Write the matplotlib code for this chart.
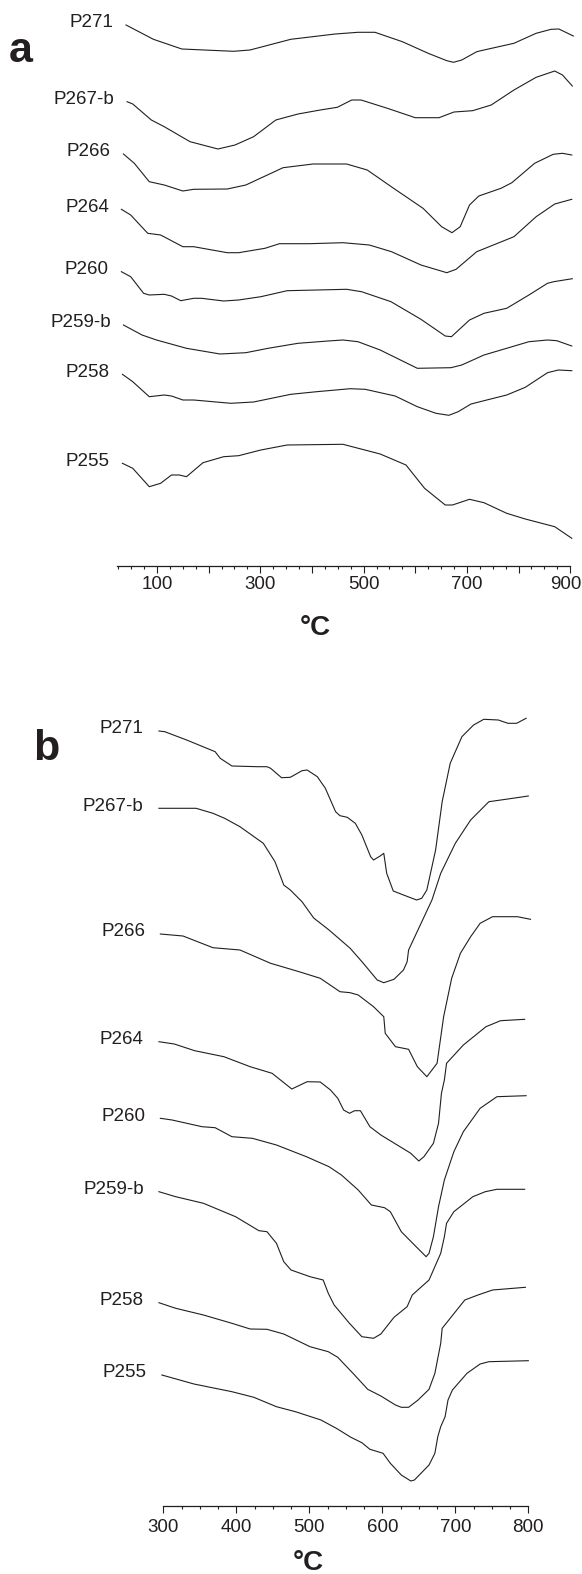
import matplotlib
matplotlib.use('Agg')
import matplotlib.pyplot as plt
from matplotlib.ticker import MultipleLocator, FuncFormatter

plt.rcParams['font.family'] = ['Liberation Sans', 'DejaVu Sans']

# ---------------- panel a : samples 20-900 C ----------------
names_a = ['P271', 'P267-b', 'P266', 'P264', 'P260', 'P259-b', 'P258', 'P255']
# vertical stacking of the curves (arbitrary units)
offsets_a = [-25, -101.7, -154, -209.3, -271.7, -325, -374.3, -463.3]

t_a_p271 = [40, 93, 148, 248, 280, 359, 445, 489, 522, 575, 625, 661, 674, 690, 719, 733, 791, 834, 863, 878, 906]
s_a_p271 = [0, -14.3, -24, -26.3, -25, -14.3, -9, -7.3, -7.3, -16.7, -28.3, -35.7, -37.3, -35, -26.7, -25, -18.3, -8.3, -4.3, -4, -11]

t_a_p267 = [42, 53, 89, 114, 164, 218, 251, 287, 330, 373, 416, 449, 477, 495, 546, 600, 646, 675, 711, 747, 791, 834, 870, 885, 904]
s_a_p267 = [0, -2.3, -18.3, -25, -40, -47.3, -43.3, -35, -18.3, -12.3, -8.3, -5.6, 1.7, 1.7, -6.6, -16, -16, -10.3, -9, -3.3, 11.7, 24.4, 30.7, 26.7, 15.7]

t_a_p266 = [35, 56, 85, 114, 150, 171, 236, 272, 344, 402, 467, 507, 558, 615, 651, 671, 687, 705, 723, 766, 787, 831, 867, 885, 903]
s_a_p266 = [0, -9.3, -27.7, -31, -37, -35.3, -35, -31, -13.7, -10, -10, -16, -34.3, -54.3, -72.7, -78.7, -72.7, -51, -42, -34.3, -28.7, -9.3, -0.3, 0.7, -1]

t_a_p264 = [31, 49, 82, 107, 150, 171, 236, 258, 309, 337, 395, 460, 511, 554, 611, 661, 679, 719, 791, 834, 870, 903]
s_a_p264 = [0, -5.7, -24, -25.7, -37.4, -37.4, -43.4, -43.4, -39, -34.4, -34.4, -33.4, -35.7, -42.4, -55.7, -63.4, -60, -42.4, -27.4, -7.4, 5.3, 10]

t_a_p260 = [31, 49, 74, 85, 114, 128, 146, 171, 186, 229, 258, 301, 352, 467, 496, 553, 611, 658, 670, 705, 733, 777, 820, 856, 868, 904]
s_a_p260 = [0, -5, -21.6, -23.3, -22.6, -24.3, -29, -26.6, -26.6, -29.3, -28.3, -25, -19, -17.6, -20, -30, -47.6, -64.3, -65, -48.3, -41.6, -36.6, -23.3, -11.6, -10, -7]

t_a_p259 = [35, 71, 99, 157, 222, 272, 315, 373, 431, 460, 489, 532, 604, 669, 690, 733, 777, 820, 856, 874, 903]
s_a_p259 = [0, -10, -15, -23.3, -29, -27.7, -23.3, -18.3, -16, -15, -16.7, -25, -43.3, -42.7, -40, -30, -23.3, -16.7, -15, -15.7, -21]

t_a_p258 = [33, 53, 85, 114, 128, 150, 171, 243, 287, 359, 409, 474, 503, 561, 604, 640, 665, 683, 708, 733, 777, 813, 856, 877, 903]
s_a_p258 = [0, -7.4, -22.4, -20.7, -21.7, -25.7, -25.7, -29, -27.7, -20, -17.4, -14.4, -15, -21.7, -32.4, -39, -41, -37.4, -29.7, -26.4, -20.7, -13, 1.6, 4.3, 3.6]

t_a_p255 = [33, 53, 85, 107, 128, 143, 157, 189, 229, 258, 301, 352, 460, 532, 582, 618, 658, 672, 705, 733, 777, 813, 870, 903]
s_a_p255 = [0, -5, -23.4, -20, -11.7, -11.7, -13.4, 0.6, 6.6, 7.6, 13.3, 18.3, 19, 9.3, -1.7, -25, -41.7, -41.7, -36, -39.4, -50, -55.7, -63.4, -75]

temps_a = [t_a_p271, t_a_p267, t_a_p266, t_a_p264, t_a_p260, t_a_p259, t_a_p258, t_a_p255]
sigs_a = [s_a_p271, s_a_p267, s_a_p266, s_a_p264, s_a_p260, s_a_p259, s_a_p258, s_a_p255]

# ---------------- panel b : samples 300-800 C ----------------
names_b = ['P271', 'P267-b', 'P266', 'P264', 'P260', 'P259-b', 'P258', 'P255']
offsets_b = [-731, -808.3, -934, -1041.7, -1118.3, -1191.7, -1302.7, -1375]

t_b_p271 = [294, 302, 332, 371, 378, 394, 429, 442, 447, 462, 474, 490, 497, 511, 522, 536, 542, 552, 563, 572,
            584, 588, 597, 602, 606, 615, 629, 647, 654, 661, 673, 682, 693, 709, 725, 739, 759, 772, 784, 797]
s_b_p271 = [0, -0.7, -9, -20.7, -27.3, -35, -35.7, -35.7, -37.3, -46.7, -46.3, -39.7, -39, -45.7, -57.3, -80.7, -84.7, -86.3, -92.3, -104,
            -125.7, -129, -125, -122.3, -142.3, -160, -164, -169, -167.3, -159, -119, -70.7, -32.3, -5.7, 6, 11.7, 11, 7.7, 7.7, 12.7]

t_b_p267 = [294, 345, 368, 384, 405, 437, 453, 465, 474, 490, 506, 527, 556, 574, 593, 602, 616, 629, 634, 636, 652, 668, 680, 700, 721, 746, 772, 800]
s_b_p267 = [0, 0, -5, -10, -18.4, -35, -53.4, -76.7, -81.7, -93.4, -109.7, -121.7, -140, -155, -171.7, -174.4, -171, -161.7, -153.4, -141.7, -116.7, -91.7, -65, -35, -11.7, 6.6, 9.3, 12.3]

t_b_p266 = [296, 327, 368, 405, 447, 486, 515, 542, 556, 567, 588, 602, 604, 618, 636, 648, 661, 675, 684, 695, 707, 721, 734, 751, 785, 803]
s_b_p266 = [0, -2, -13.7, -16, -29.3, -37.7, -44.3, -57.7, -58.7, -61, -72.7, -82.7, -99.3, -112.7, -115.3, -132.7, -142.7, -129.3, -82.7, -44.3, -19.3, -2.7, 10.7, 17.3, 17.3, 14.7]

t_b_p264 = [294, 315, 343, 383, 419, 449, 476, 497, 515, 529, 539, 547, 555, 562, 570, 583, 598, 639, 650, 657, 670, 677, 681, 685, 688, 711, 742, 762, 795]
s_b_p264 = [0, -2.3, -9, -15, -25, -31.6, -47.3, -40, -40.3, -48.3, -56.6, -68.3, -71.6, -69, -69, -85, -93.3, -111.6, -119.3, -115, -101.6, -81.6, -51.6, -38.3, -21.6, -3.3, 15, 21, 22.4]

t_b_p260 = [296, 312, 353, 371, 394, 422, 455, 496, 527, 544, 567, 585, 603, 611, 626, 644, 660, 664, 670, 677, 685, 698, 711, 734, 757, 797]
s_b_p260 = [0, -1.7, -8.4, -9.4, -18.4, -20, -26.7, -38.4, -48.4, -56.7, -71.7, -86.7, -89.4, -93.4, -113.4, -126.7, -138.4, -135, -118.4, -88.4, -61.7, -33.4, -13.4, 10, 21.6, 22.6]

t_b_p259 = [294, 317, 355, 399, 431, 442, 455, 465, 475, 501, 519, 526, 534, 555, 572, 588, 598, 616, 634, 641, 664, 680, 685, 688, 698, 724, 741, 757, 795]
s_b_p259 = [0, -5, -11.6, -25, -39, -40, -51.6, -70, -78.3, -85, -88.3, -101.6, -113.3, -131.6, -145, -146.6, -142.3, -125.6, -115, -103.3, -88.3, -61.6, -45, -31.6, -20, -5, 0, 2.4, 2.4]

t_b_p258 = [294, 317, 355, 394, 419, 442, 465, 501, 526, 539, 562, 580, 598, 618, 626, 636, 649, 664, 672, 680, 682, 713, 731, 751, 796]
s_b_p258 = [0, -5.6, -12.3, -20.6, -26.3, -26.6, -31.3, -44, -49, -54.6, -72.3, -86.6, -93.3, -102.3, -104.6, -104.6, -97.3, -86.6, -70.6, -40.6, -25.6, 2.7, 7.7, 12.7, 15.4]

t_b_p255 = [298, 342, 394, 424, 455, 481, 516, 537, 557, 572, 583, 601, 611, 626, 639, 644, 664, 672, 676, 680, 686, 690, 696, 716, 734, 746, 800]
s_b_p255 = [0, -9, -16.7, -22.3, -31.7, -36.7, -45, -53.3, -62.3, -67.7, -74.3, -78.3, -88.3, -100, -106, -105, -90, -78.3, -61.7, -51.7, -41.7, -25, -15, 1.7, 11, 13.3, 14.3]

temps_b = [t_b_p271, t_b_p267, t_b_p266, t_b_p264, t_b_p260, t_b_p259, t_b_p258, t_b_p255]
sigs_b = [s_b_p271, s_b_p267, s_b_p266, s_b_p264, s_b_p260, s_b_p259, s_b_p258, s_b_p255]

W, H = 582, 1574
fig = plt.figure(figsize=(W / 100, H / 100), dpi=100)
ink = '#231f20'


def px_axes(x0, x1, y0, y1):
    # axes box given in pixels from the top-left corner
    return fig.add_axes([x0 / W, 1 - y1 / H, (x1 - x0) / W, (y1 - y0) / H])


def draw_panel(ax, names, temps, sigs, offsets, xlim, ylim, bounds, labeled, gap, pad):
    for name, t, s, off in zip(names, temps, sigs, offsets):
        assert len(t) == len(s), name
        y = [v + off for v in s]
        ax.plot(t, y, color=ink, lw=0.8, solid_joinstyle='round', clip_on=False)
        ax.annotate(name, xy=(t[0], y[0]), xytext=(-gap, 1.5), textcoords='offset points',
                    ha='right', va='center', fontsize=13.5, color=ink, annotation_clip=False)
    ax.set_xlim(*xlim)
    ax.set_ylim(*ylim)
    for side in ['top', 'right', 'left']:
        ax.spines[side].set_visible(False)
    ax.spines['bottom'].set_bounds(*bounds)
    ax.spines['bottom'].set_color(ink)
    ax.spines['bottom'].set_linewidth(0.9)
    ax.set_yticks([])
    ax.xaxis.set_major_locator(MultipleLocator(100))
    ax.xaxis.set_minor_locator(MultipleLocator(25))
    ax.xaxis.set_major_formatter(FuncFormatter(lambda v, p: '%d' % v if int(round(v)) in labeled else ''))
    ax.tick_params(axis='x', which='major', length=4.7, width=0.8, color=ink, labelsize=13.5,
                   labelcolor=ink, pad=pad)
    ax.tick_params(axis='x', which='minor', length=2.4, width=0.8, color=ink)
    ax.patch.set_alpha(0)


ax1 = px_axes(115.7, 575.4, 0, 565.5)
draw_panel(ax1, names_a, temps_a, sigs_a, offsets_a, (20, 910), (-565.5, 0), (22, 900),
           [100, 300, 500, 700], 9, 3.2)
# last label sits on the figure edge, nudge it inwards a little
ax1.annotate('900', xy=(900, 0), xycoords=('data', 'axes fraction'), xytext=(-3, -(4.7 + 3.2)),
             textcoords='offset points', ha='center', va='top', fontsize=13.5, color=ink,
             annotation_clip=False)

ax2 = px_axes(163.3, 532.7, 680, 1505.7)
draw_panel(ax2, names_b, temps_b, sigs_b, offsets_b, (300, 806), (-1505.7, -680), (300, 800),
           [300, 400, 500, 600, 700, 800], 11, 5)

fig.text(315 / W, 1 - 635 / H, '°C', ha='center', va='baseline', fontsize=20, fontweight='bold', color=ink)
fig.text(308 / W, 1 - 1570 / H, '°C', ha='center', va='baseline', fontsize=20, fontweight='bold', color=ink)
fig.text(9 / W, 1 - 61.5 / H, 'a', ha='left', va='baseline', fontsize=31, fontweight='bold', color=ink)
fig.text(33 / W, 1 - 760 / H, 'b', ha='left', va='baseline', fontsize=31, fontweight='bold', color=ink)

fig.savefig('out.png', dpi=100)
